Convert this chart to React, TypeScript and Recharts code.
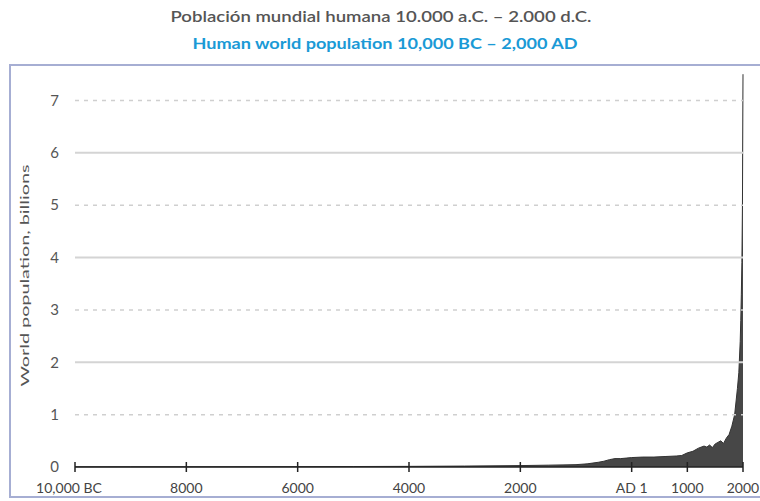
import { Area, AreaChart, ReferenceLine, XAxis, YAxis } from 'recharts';

const years = [
  -10000, -9000, -8000, -7000, -6000, -5000, -4000, -3000, -2000, -1500, -1000, -800, -600, -500, -400, -300,
  -200, -100, 0, 200, 400, 600, 800, 900, 1000, 1100, 1200, 1300, 1350, 1400, 1450, 1500, 1550, 1600, 1650,
  1700, 1750, 1800, 1850, 1900, 1925, 1950, 1960, 1970, 1980, 1990, 2000,
];
const population = [
  0.004, 0.005, 0.005, 0.006, 0.007, 0.009, 0.012, 0.018, 0.027, 0.035, 0.045, 0.06, 0.09, 0.11, 0.14, 0.16,
  0.16, 0.17, 0.18, 0.19, 0.19, 0.2, 0.21, 0.22, 0.27, 0.3, 0.36, 0.4, 0.38, 0.42, 0.37, 0.44, 0.47, 0.5, 0.45,
  0.55, 0.62, 0.78, 1.0, 1.5, 1.8, 2.4, 2.8, 3.3, 3.9, 5.0, 7.5,
];

const xTicks = [-10000, -8000, -6000, -4000, -2000, 0, 1000, 2000];
const xTickLabels = ['10,000 BC', '8000', '6000', '4000', '2000', 'AD 1', '1000', '2000'];
const yTicks = [0, 1, 2, 3, 4, 5, 6, 7];
const gridLevels = [1, 2, 3, 4, 5, 6, 7];

const data = years.map((year, i) => ({ year, pop: population[i] }));

const FONT = 'Lato, "Open Sans", sans-serif';

const XTick = ({ x, y, payload }: any) => {
  const i = xTicks.indexOf(payload.value);
  return (
    <g>
      <line x1={x} x2={x} y1={y - 5} y2={y + 5} stroke="#222" strokeWidth={1.5} />
      <text x={x} dx={i === 0 ? -6 : 0} y={y + 26} textAnchor="middle" fontSize={14} fill="#444" fontFamily={FONT}>
        {xTickLabels[i]}
      </text>
    </g>
  );
};

const YLabel = ({ viewBox }: any) => {
  const cx = viewBox.x + 24;
  const cy = viewBox.y + viewBox.height / 2 + 18;
  return (
    <text x={cx} y={cy} transform={`rotate(-90 ${cx} ${cy})`} textAnchor="middle" dominantBaseline="central"
      fontSize={11} fill="#555" fontFamily={FONT} textLength={222} lengthAdjust="spacingAndGlyphs">
      World population, billions
    </text>
  );
};

export default function App() {
  return (
    <div style={{ position: 'absolute', left: 0, top: 0, width: 760, height: 501, background: '#fff', overflow: 'hidden' }}>
      <svg width={760} height={64} style={{ position: 'absolute', left: 0, top: 0 }}>
        <text x={381} y={22} textAnchor="middle" fontFamily={FONT} fontSize={16} fontWeight={600} fill="#555"
          textLength={421} lengthAdjust="spacingAndGlyphs">
          Población mundial humana 10.000 a.C. – 2.000 d.C.
        </text>
        <text x={385} y={49} textAnchor="middle" fontFamily={FONT} fontSize={16} fontWeight={700} fill="#1a9ad6"
          textLength={385} lengthAdjust="spacingAndGlyphs">
          Human world population 10,000 BC – 2,000 AD
        </text>
      </svg>
      <div style={{ position: 'absolute', left: 9, top: 64, width: 760, height: 434, border: '2px solid #a6aed3',
        boxSizing: 'border-box' }} />
      <div style={{ position: 'absolute', left: 0, top: 0 }}>
        <AreaChart width={760} height={501} data={data} margin={{ top: 48, right: 17, left: 0, bottom: 4 }}>
          {gridLevels.map((v) => (
            <ReferenceLine key={v} y={v} stroke={v % 2 ? '#cfcfcf' : '#d4d4d4'}
              strokeWidth={v % 2 ? 1.5 : 2} strokeDasharray={v % 2 ? '4 5' : undefined} />
          ))}
          <XAxis dataKey="year" type="number" domain={[-10000, 2000]} ticks={xTicks} tickSize={0} tickMargin={0}
            tickLine={false} axisLine={{ stroke: '#222', strokeWidth: 1.5 }} tick={<XTick />} interval={0} />
          <YAxis type="number" domain={[0, 8]} ticks={yTicks} width={75} axisLine={false} tickLine={false}
            tickSize={0} tickMargin={16} tick={{ fontSize: 15, fill: '#555', fontFamily: FONT }}
            label={<YLabel />} />
          <Area type="linear" dataKey="pop" stroke="#333" strokeWidth={1} fill="#474747" fillOpacity={1}
            isAnimationActive={false} />
        </AreaChart>
      </div>
    </div>
  );
}
